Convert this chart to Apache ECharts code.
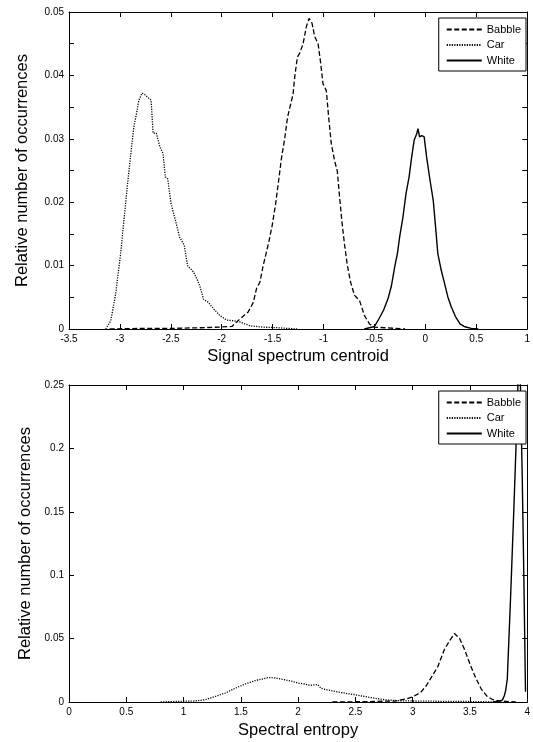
<!DOCTYPE html>
<html>
<head>
<meta charset="utf-8">
<script src="https://cdn.jsdelivr.net/npm/echarts@6/dist/echarts.min.js"></script>
<style>
html,body{margin:0;padding:0;background:#fff;}
#chart{width:533px;height:742px;}
</style>
</head>
<body>
<div id="chart"></div>
<script>
// ---------- Data ----------
const seriesNames = ['Babble', 'Car', 'White'];

// Top panel: Signal spectrum centroid
const topBabble = [[-3.1,0],[-2.8,0.0001],[-2.5,0.0001],[-2.2,0.0002],[-2.03,0.0003],[-1.9,0.0004],[-1.82,0.0016],[-1.74,0.0027],[-1.69,0.0042],[-1.658,0.0064],[-1.625,0.0074],[-1.592,0.0101],[-1.56,0.0122],[-1.537,0.0138],[-1.504,0.0164],[-1.472,0.0196],[-1.446,0.0228],[-1.413,0.027],[-1.38,0.0302],[-1.354,0.0334],[-1.315,0.036],[-1.299,0.0371],[-1.283,0.0398],[-1.257,0.0429],[-1.234,0.0435],[-1.201,0.045],[-1.169,0.0477],[-1.142,0.049],[-1.113,0.0482],[-1.087,0.0461],[-1.054,0.045],[-1.028,0.0419],[-1.006,0.0387],[-0.973,0.0376],[-0.95,0.0334],[-0.924,0.0292],[-0.891,0.0265],[-0.865,0.0249],[-0.842,0.0207],[-0.82,0.017],[-0.794,0.0133],[-0.767,0.0101],[-0.735,0.0074],[-0.696,0.0053],[-0.647,0.0045],[-0.598,0.0021],[-0.549,0.0008],[-0.5,0.0003],[-0.4,0.0002],[-0.3,0.0001],[-0.2,0]];
const topCar = [[-3.14,0],[-3.09,0.0013],[-3.042,0.0055],[-2.993,0.0119],[-2.954,0.0182],[-2.928,0.0224],[-2.896,0.0272],[-2.863,0.0319],[-2.837,0.034],[-2.814,0.0361],[-2.782,0.0372],[-2.749,0.0369],[-2.717,0.0364],[-2.694,0.0361],[-2.674,0.0309],[-2.642,0.0309],[-2.609,0.0288],[-2.577,0.0277],[-2.554,0.024],[-2.531,0.0237],[-2.498,0.0198],[-2.456,0.0172],[-2.414,0.0145],[-2.368,0.0132],[-2.336,0.01],[-2.277,0.009],[-2.238,0.0077],[-2.212,0.0066],[-2.179,0.0047],[-2.13,0.0042],[-2.081,0.0032],[-2.016,0.0021],[-1.951,0.0014],[-1.886,0.0013],[-1.821,0.0011],[-1.723,0.0005],[-1.6,0.0003],[-1.45,0.0002],[-1.26,0]];
const topWhite = [[-0.6,0],[-0.5,0.0004],[-0.46,0.0015],[-0.41,0.003],[-0.365,0.0049],[-0.335,0.0067],[-0.3,0.0099],[-0.275,0.0119],[-0.252,0.0146],[-0.22,0.0177],[-0.19,0.0214],[-0.16,0.024],[-0.135,0.0271],[-0.11,0.0298],[-0.085,0.0308],[-0.073,0.0316],[-0.057,0.0303],[-0.035,0.0305],[-0.012,0.0303],[0.012,0.0271],[0.045,0.0235],[0.077,0.0203],[0.1,0.0161],[0.122,0.0119],[0.155,0.0093],[0.188,0.0072],[0.22,0.0051],[0.252,0.0036],[0.294,0.002],[0.34,0.0008],[0.38,0.0004],[0.45,0.0001],[0.52,0]];

// Bottom panel: Spectral entropy
const botBabble = [[2.3,0],[2.6,0.0003],[2.85,0.0008],[2.95,0.0025],[3.0,0.004],[3.07,0.0076],[3.12,0.013],[3.16,0.019],[3.22,0.028],[3.275,0.041],[3.32,0.048],[3.365,0.054],[3.41,0.05],[3.455,0.041],[3.5,0.03],[3.55,0.019],[3.6,0.01],[3.65,0.0045],[3.7,0.0018],[3.76,0.0008],[3.85,0.0003],[3.9,0]];
const botCar = [[0.8,0],[0.95,0.0005],[1.1,0.0008],[1.19,0.0018],[1.28,0.0045],[1.365,0.0071],[1.45,0.0108],[1.537,0.0142],[1.624,0.0168],[1.68,0.018],[1.74,0.0193],[1.796,0.019],[1.853,0.018],[1.897,0.0172],[1.94,0.0165],[1.997,0.015],[2.055,0.0142],[2.11,0.0132],[2.17,0.0138],[2.2,0.0108],[2.256,0.0095],[2.34,0.008],[2.43,0.0066],[2.514,0.0055],[2.6,0.004],[2.687,0.0027],[2.77,0.0016],[2.89,0.001],[3.0,0.0008],[3.3,0.0005],[3.6,0.0003],[3.75,0]];
const botWhite = [[3.7,0],[3.76,0.0008],[3.783,0.0015],[3.8,0.005],[3.812,0.0092],[3.826,0.018],[3.855,0.083],[3.884,0.154],[3.907,0.214],[3.932,0.29],[3.957,0.175],[3.971,0.096],[3.985,0.008]];

// Tick labels
const topXTicks = [-3.5,-3,-2.5,-2,-1.5,-1,-0.5,0,0.5,1];
const topXLabels = ['-3.5','-3','-2.5','-2','-1.5','-1','-0.5','0','0.5','1'];
const topYTicks = [0,0.01,0.02,0.03,0.04,0.05];
const topYLabels = ['0','0.01','0.02','0.03','0.04','0.05'];
const botXTicks = [0,0.5,1,1.5,2,2.5,3,3.5,4];
const botXLabels = ['0','0.5','1','1.5','2','2.5','3','3.5','4'];
const botYTicks = [0,0.05,0.1,0.15,0.2,0.25];
const botYLabels = ['0','0.05','0.1','0.15','0.2','0.25'];

const titles = {
  topX: 'Signal spectrum centroid',
  botX: 'Spectral entropy',
  y: 'Relative number of occurrences'
};

// ---------- Chart ----------
const FONT = "'Liberation Sans', Arial, sans-serif";
const styles = {
  Babble: { type: [5, 2.5], width: 1.3 },
  Car: { type: [1.2, 1.3], width: 1.3 },
  White: { type: 'solid', width: 1.4 }
};

function labelFmt(ticks, labels) {
  return function (v) {
    const i = ticks.findIndex(t => Math.abs(t - v) < 1e-9);
    return i >= 0 ? labels[i] : '';
  };
}

function axisCommon(extra) {
  return Object.assign({
    type: 'value',
    axisLine: { show: true, onZero: false, lineStyle: { color: '#000', width: 1 } },
    axisTick: { show: true, inside: true, length: 5, lineStyle: { color: '#000', width: 1 } },
    splitLine: { show: false },
    axisLabel: { color: '#000', fontSize: 10, fontFamily: FONT }
  }, extra);
}

const xAxes = [
  axisCommon({ gridIndex: 0, position: 'bottom', min: -3.5, max: 1, interval: 0.5,
    axisLabel: { color: '#000', fontSize: 10, fontFamily: FONT, margin: 5, formatter: labelFmt(topXTicks, topXLabels) },
    name: titles.topX, nameLocation: 'middle', nameGap: 19,
    nameTextStyle: { fontSize: 16.5, color: '#000', fontFamily: FONT } }),
  axisCommon({ gridIndex: 0, position: 'top', min: -3.5, max: 1, interval: 0.5, axisLabel: { show: false } }),
  axisCommon({ gridIndex: 1, position: 'bottom', min: 0, max: 4, interval: 0.5,
    axisLabel: { color: '#000', fontSize: 10, fontFamily: FONT, margin: 5, formatter: labelFmt(botXTicks, botXLabels) },
    name: titles.botX, nameLocation: 'middle', nameGap: 20,
    nameTextStyle: { fontSize: 16.5, color: '#000', fontFamily: FONT } }),
  axisCommon({ gridIndex: 1, position: 'top', min: 0, max: 4, interval: 0.5, axisLabel: { show: false } })
];

const yAxes = [
  axisCommon({ gridIndex: 0, position: 'left', min: 0, max: 0.05, interval: 0.005,
    axisLabel: { color: '#000', fontSize: 10, fontFamily: FONT, margin: 5, formatter: labelFmt(topYTicks, topYLabels) },
    name: titles.y, nameLocation: 'middle', nameGap: 38,
    nameTextStyle: { fontSize: 16.5, color: '#000', fontFamily: FONT } }),
  axisCommon({ gridIndex: 0, position: 'right', min: 0, max: 0.05, interval: 0.005, axisLabel: { show: false } }),
  axisCommon({ gridIndex: 1, position: 'left', min: 0, max: 0.25, interval: 0.05,
    axisLabel: { color: '#000', fontSize: 10, fontFamily: FONT, margin: 5, formatter: labelFmt(botYTicks, botYLabels) },
    name: titles.y, nameLocation: 'middle', nameGap: 31,
    nameTextStyle: { fontSize: 16.5, color: '#000', fontFamily: FONT } }),
  axisCommon({ gridIndex: 1, position: 'right', min: 0, max: 0.25, interval: 0.05, axisLabel: { show: false } })
];

function mk(name, data, axisIdx) {
  return {
    name: name, type: 'line', data: data,
    xAxisIndex: axisIdx, yAxisIndex: axisIdx,
    symbol: 'none', showSymbol: false, smooth: false, clip: true,
    animation: false,
    lineStyle: { color: '#000', width: styles[name].width, type: styles[name].type },
    itemStyle: { color: '#000' }
  };
}

const series = [
  mk('Babble', topBabble, 0), mk('Car', topCar, 0), mk('White', topWhite, 0),
  mk('Babble', botBabble, 2), mk('Car', botCar, 2), mk('White', botWhite, 2)
];

function legendAt(top) {
  return {
    orient: 'vertical', right: 7, top: top,
    data: seriesNames,
    itemWidth: 35, itemHeight: 12, itemGap: 4.5,
    padding: [6, 5, 5, 7],
    borderColor: '#000', borderWidth: 1, backgroundColor: '#fff', borderRadius: 0,
    itemStyle: { opacity: 0, color: 'transparent', borderWidth: 0 },
    textStyle: { fontSize: 11, color: '#000', fontFamily: FONT },
    selectedMode: false
  };
}

const chart = echarts.init(document.getElementById('chart'), null, { renderer: 'canvas' });
chart.setOption({
  backgroundColor: '#fff',
  animation: false,
  textStyle: { fontFamily: FONT },
  grid: [
    { left: 69, right: 3, top: 12, height: 317 },
    { left: 69, right: 3, top: 385, height: 317 }
  ],
  legend: [legendAt(18), legendAt(391)],
  xAxis: xAxes,
  yAxis: yAxes,
  series: series
});
</script>
</body>
</html>
